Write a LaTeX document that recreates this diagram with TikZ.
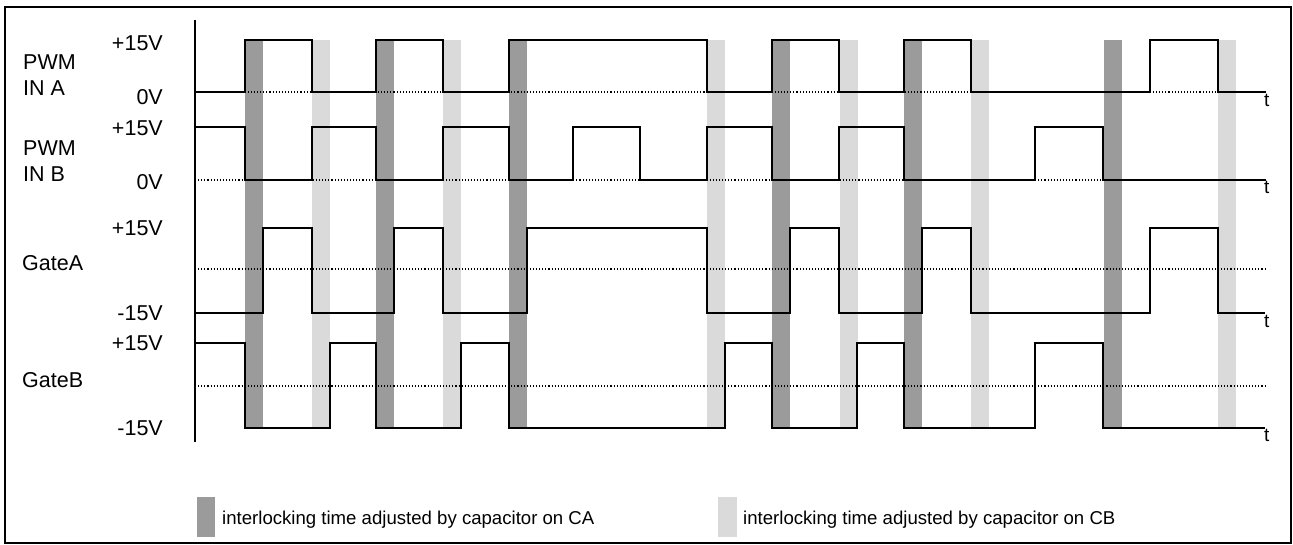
\documentclass[tikz,border=0pt]{standalone}
\usepackage{fontspec}
\setmainfont{Liberation Sans}
\usepackage{xcolor}
\usetikzlibrary{positioning}
\definecolor{bandA}{RGB}{155,155,155}
\definecolor{bandB}{RGB}{218,218,218}

\begin{document}
\begin{tikzpicture}[x=1pt, y=-1pt]
  \tikzstyle{frame}=[draw, line width=1.6pt]
  \tikzstyle{sig}=[draw, line width=1.6pt, line join=miter]
  \tikzstyle{zero}=[draw, dotted, line width=1.1pt]
  \tikzstyle{ca}=[fill=bandA]
  \tikzstyle{cb}=[fill=bandB]
  \tikzstyle{lvl}=[anchor=east, inner sep=0pt, font=\fontsize{21.5}{26}\selectfont]
  \tikzstyle{signame}=[anchor=west, inner sep=0pt, align=left, font=\fontsize{21.5}{26}\selectfont]
  \tikzstyle{tlbl}=[anchor=north west, inner sep=0pt, font=\fontsize{19}{22}\selectfont]
  \tikzstyle{legend}=[anchor=base west, inner sep=0pt, font=\fontsize{18.6}{22}\selectfont]

  \useasboundingbox (0,0) rectangle (1293,545);
  \draw[frame] (5,7) rectangle (1291,543);

  % Interlocking times (CA dark, CB light)
  \fill[ca] (245,40) rectangle (263,428);
  \fill[ca] (376,40) rectangle (394,428);
  \fill[ca] (509,40) rectangle (527,428);
  \fill[ca] (772,40) rectangle (790,428);
  \fill[ca] (904,40) rectangle (922,428);
  \fill[ca] (1104,40) rectangle (1122,428);
  \fill[cb] (312,40) rectangle (330,428);
  \fill[cb] (443,40) rectangle (461,428);
  \fill[cb] (707,40) rectangle (725,428);
  \fill[cb] (840,40) rectangle (858,428);
  \fill[cb] (971,40) rectangle (989,428);
  \fill[cb] (1218,40) rectangle (1236,428);

  % Axis and reference levels
  \draw[line width=1.5pt] (195,20) -- (195,442);
  \draw[zero] (195,92) -- (1265,92);
  \draw[zero] (195,180) -- (1265,180);
  \draw[zero] (195,269) -- (1265,269);
  \draw[zero] (195,386) -- (1265,386);

  % PWM IN A
  \draw[sig] (195,92) -| (245,40) -| (312,92) -| (376,40) -| (443,92) -| (509,40)
    -| (707,92) -| (772,40) -| (839,92) -| (904,40) -| (971,92) -| (1150,40)
    -| (1218,92) -- (1265,92);
  % PWM IN B
  \draw[sig] (195,127) -| (245,180) -| (312,127) -| (376,180) -| (443,127) -| (509,180)
    -| (573,127) -| (640,180) -| (707,127) -| (772,180) -| (839,127) -| (904,180)
    -| (1035,127) -| (1103,180) -- (1265,180);
  % GateA
  \draw[sig] (195,313) -| (263,228) -| (312,313) -| (394,228) -| (443,313) -| (527,228)
    -| (707,313) -| (790,228) -| (839,313) -| (922,228) -| (971,313) -| (1150,228)
    -| (1218,313) -- (1265,313);
  % GateB
  \draw[sig] (195,343) -| (245,428) -| (330,343) -| (376,428) -| (461,343) -| (509,428)
    -| (725,343) -| (772,428) -| (857,343) -| (904,428) -| (1035,343) -| (1103,428)
    -- (1265,428);

  % Signal names
  \node[signame] (inA) at (23,75) {PWM\\IN A};
  \node[signame] (inB) at (23,161) {PWM\\IN B};
  \node[signame] (gA) at (22,263) {GateA};
  \node[signame] (gB) at (22,380) {GateB};

  % Levels
  \node[lvl] (a1) at (163,43) {+15V};
  \node[lvl] (a0) at (163,97) {0V};
  \node[lvl] (b1) at (163,128) {+15V};
  \node[lvl] (b0) at (163,182) {0V};
  \node[lvl] (ga1) at (163,228) {+15V};
  \node[lvl] (ga0) at (163,313) {-15V};
  \node[lvl] (gb1) at (163,343) {+15V};
  \node[lvl] (gb0) at (163,428) {-15V};

  % Time labels
  \node[tlbl] (tA) at (1264,94) {t};
  \node[tlbl] (tB) at (1264,181) {t};
  \node[tlbl] (tGA) at (1264,315) {t};
  \node[tlbl] (tGB) at (1264,429) {t};

  % Legend
  \fill[ca] (197,497) rectangle (215,537);
  \node[legend] (legA) at (222,524) {interlocking time adjusted by capacitor on CA};
  \fill[cb] (718,497) rectangle (737,537);
  \node[legend] (legB) at (743,524) {interlocking time adjusted by capacitor on CB};
\end{tikzpicture}
\end{document}
